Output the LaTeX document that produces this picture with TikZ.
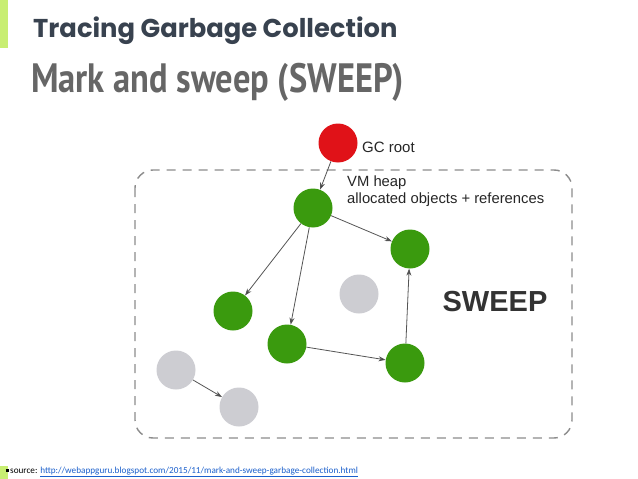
\documentclass[tikz,border=0pt]{standalone}
\usepackage{fontspec}
\setmainfont{Liberation Sans}
\newfontfamily\titlefont{Poppins}
\newfontfamily\subfont{PT Sans}
\newfontfamily\footfont{Carlito}
\usetikzlibrary{arrows.meta}
\definecolor{accent}{HTML}{C8EE72}
\definecolor{titlecol}{HTML}{38424F}
\definecolor{subcol}{HTML}{666666}
\definecolor{liveg}{HTML}{3A9A0E}
\definecolor{rootr}{HTML}{E01218}
\definecolor{deadg}{HTML}{CDCDD2}
\definecolor{edgecol}{HTML}{555555}
\definecolor{linkcol}{HTML}{1A5FCC}
\tikzset{
  obj/.style={circle, minimum size=39pt, inner sep=0pt},
  live/.style={obj, fill=liveg},
  dead/.style={obj, fill=deadg},
  root/.style={obj, fill=rootr},
  ref/.style={draw=edgecol, line width=0.8pt, -{Stealth[length=7pt,width=5pt,fill=black!85]}},
  lbl/.style={inner sep=0pt, anchor=west, text=black!85},
}
\begin{document}
\begin{tikzpicture}[x=1pt,y=-1pt]
\useasboundingbox (0,0) rectangle (638,479);
\fill[white] (0,0) rectangle (638,479);
% accent bars
\fill[accent] (0,0) rectangle (8,48);
\fill[accent] (0,466) rectangle (8,479);
% titles
\node[inner sep=0pt, anchor=base west, text=titlecol, font=\titlefont\bfseries\fontsize{25.8}{30}\selectfont] (title) at (33,37) {Tracing Garbage Collection};
\node[inner sep=0pt, anchor=base west, text=subcol, font=\subfont\bfseries\fontsize{41}{46}\selectfont] (sub) at (31,92) {\scalebox{0.84}[1]{Mark and sweep (SWEEP)}};
% heap
\draw[draw=black!45, line width=1.4pt, dash pattern=on 9pt off 7pt, rounded corners=18pt] (135,170) rectangle (572,438);
% nodes
\node[root] (gc) at (338,143) {};
\node[live] (a) at (313,208) {};
\node[live] (b) at (410,249) {};
\node[live] (c) at (233,311) {};
\node[live] (d) at (287,344) {};
\node[live] (e) at (405,363) {};
\node[dead] (f) at (359,294) {};
\node[dead] (g) at (176,370) {};
\node[dead] (h) at (239,407) {};
% labels
\node[lbl, font=\fontsize{15}{18}\selectfont] (gcl) at (362,147) {GC root};
\node[lbl, font=\fontsize{14.8}{17}\selectfont] (vm) at (347,183) {VM heap};
\node[lbl, font=\fontsize{14.8}{17}\selectfont] (alloc) at (347,200) {allocated objects + references};
\node[inner sep=0pt, text=black!80, font=\bfseries\fontsize{29}{34}\selectfont] (sweep) at (495,302) {SWEEP};
% references
\draw[ref] (gc) -- (a);
\draw[ref] (a) -- (c);
\draw[ref] (a) -- (d);
\draw[ref] (a) -- (b);
\draw[ref] (d) -- (e);
\draw[ref] (e) -- (b);
\draw[ref] (g) -- (h);
% footer
\fill[black] (5.5,469) rectangle (8.5,472);
\node[inner sep=0pt, anchor=base west, font=\footfont\fontsize{9.2}{10}\selectfont] (src) at (10,473.5) {source: \textcolor{linkcol}{\underline{http://webappguru.blogspot.com/2015/11/mark-and-sweep-garbage-collection.html}}};
\end{tikzpicture}
\end{document}
